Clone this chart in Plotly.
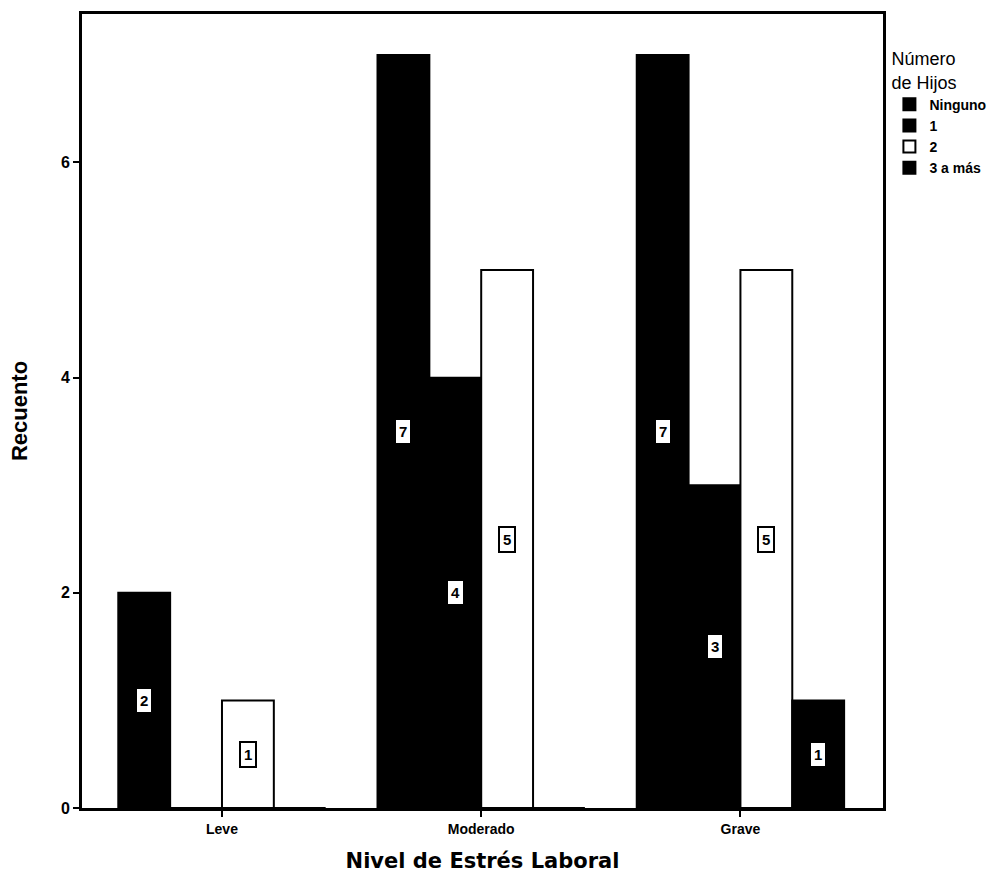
import plotly.graph_objects as go

categories = ["Leve", "Moderado", "Grave"]
series_names = ["Ninguno", "1", "2", "3 a más"]
ninguno = [2, 7, 7]
uno = [0, 4, 3]
dos = [1, 5, 5]
tres_mas = [0, 0, 1]
series_values = [ninguno, uno, dos, tres_mas]
series_fill = ["black", "black", "white", "black"]
y_ticks = [0, 2, 4, 6]

fig = go.Figure()
for name, vals, col in zip(series_names, series_values, series_fill):
    fig.add_trace(go.Bar(
        x=categories, y=vals, name=name,
        marker=dict(color=col, line=dict(color="black", width=2)),
    ))

# value labels (white boxes) centred on each nonzero bar
n = len(series_names)
gap = 0.2
w = (1 - gap) / n
for j, vals in enumerate(series_values):
    for i, v in enumerate(vals):
        if v == 0:
            continue
        fig.add_annotation(
            x=i + (j - (n - 1) / 2) * w, y=v / 2, xref="x", yref="y",
            text=f"<b>{v}</b>", showarrow=False,
            font=dict(family="Liberation Sans", size=15, color="black"),
            bgcolor="white", bordercolor="black", borderwidth=2, borderpad=3,
        )

fig.update_layout(
    width=995, height=893,
    margin=dict(l=82, r=112, t=14, b=85, autoexpand=False),
    paper_bgcolor="white", plot_bgcolor="white",
    barmode="group", bargap=gap, bargroupgap=0,
    font=dict(family="Liberation Sans", color="black"),
    showlegend=True,
    legend=dict(
        x=1.008, y=0.965, xanchor="left", yanchor="top",
        title=dict(text="Número<br>de Hijos",
                   font=dict(size=18, family="Liberation Sans", weight="normal")),
        font=dict(size=14, family="Liberation Sans", weight="bold"),
        tracegroupgap=0, itemwidth=30,
        bgcolor="rgba(0,0,0,0)",
    ),
    xaxis=dict(
        range=[-0.54, 2.55],
        showline=True, linecolor="black", linewidth=3, mirror=True,
        ticks="outside", ticklen=6, tickwidth=2, tickcolor="black",
        tickfont=dict(size=14, family="Liberation Sans", weight="bold"),
        showgrid=False,
        title=dict(text="<b>Nivel de Estrés Laboral</b>",
                   font=dict(size=21, family="DejaVu Sans"), standoff=18),
    ),
    yaxis=dict(
        range=[0, 7.38],
        tickvals=y_ticks, ticktext=[f"<b>{t}</b>" for t in y_ticks],
        showline=True, linecolor="black", linewidth=3, mirror=True,
        ticks="outside", ticklen=6, tickwidth=2, tickcolor="black",
        tickfont=dict(size=16, family="Liberation Sans"),
        showgrid=False, zeroline=False,
        title=dict(text="<b>Recuento</b>",
                   font=dict(size=22, family="Liberation Sans"), standoff=28),
    ),
)

fig.write_html("out.html")
